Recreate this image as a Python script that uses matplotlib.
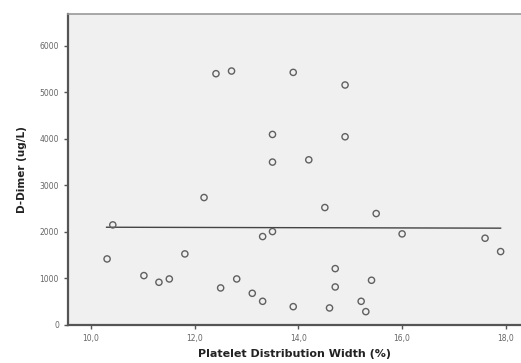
import matplotlib
matplotlib.use("Agg")
import matplotlib.pyplot as plt

pdw = [12.41, 12.71, 13.90, 14.90, 13.50, 14.90, 13.50, 14.20,
       12.18, 10.42, 10.31, 11.02, 11.31, 11.51, 11.81, 12.50, 12.81, 13.11,
       14.51, 15.50, 13.31, 13.50, 16.00, 17.60, 17.90, 14.71, 15.41, 14.71,
       13.31, 13.90, 14.60, 15.21, 15.30]
ddimer = [5398, 5455, 5426, 5155, 4093, 4043, 3499, 3548,
          2738, 2150, 1419, 1061, 918, 989, 1527, 796, 989, 681,
          2523, 2394, 1900, 2007, 1957, 1864, 1577, 1211, 961, 817,
          509, 394, 366, 509, 287]
fit_x = [10.30, 17.90]
fit_y = [2100, 2080]
xticks = [10, 12, 14, 16, 18]
xtick_labels = ["10,0", "12,0", "14,0", "16,0", "18,0"]
yticks = [0, 1000, 2000, 3000, 4000, 5000, 6000]
ytick_labels = ["0", "1000", "2000", "3000", "4000", "5000", "6000"]

fig = plt.figure(figsize=(5.21, 3.63), dpi=100)
ax = fig.add_axes([68/521, 1-325/363, 1-68/521, (325-14)/363])
ax.set_facecolor("#f0f0f0")
ax.scatter(pdw, ddimer, s=20, facecolors="none", edgecolors="#606060", linewidths=1.0, zorder=3)
ax.plot(fit_x, fit_y, color="#444444", linewidth=1.0, zorder=2)
ax.set_xlim(9.556, 18.293)
ax.set_ylim(0, 6680)
ax.set_xticks(xticks)
ax.set_xticklabels(xtick_labels)
ax.set_yticks(yticks)
ax.set_yticklabels(ytick_labels)
ax.tick_params(axis="both", direction="out", length=3, width=1, colors="#555555",
               labelsize=5.5, labelcolor="#666666")
for side in ["left", "bottom"]:
    ax.spines[side].set_color("#555555")
    ax.spines[side].set_linewidth(1.6)
ax.spines["top"].set_color("#999999")
ax.spines["top"].set_linewidth(1.2)
ax.spines["right"].set_visible(False)
ax.set_xlabel("Platelet Distribution Width (%)", fontsize=8, fontweight="bold", color="#222222", labelpad=4)
ax.set_ylabel("D-Dimer (ug/L)", fontsize=7.5, fontweight="bold", color="#222222", labelpad=9)
fig.savefig("out.png", dpi=100)
